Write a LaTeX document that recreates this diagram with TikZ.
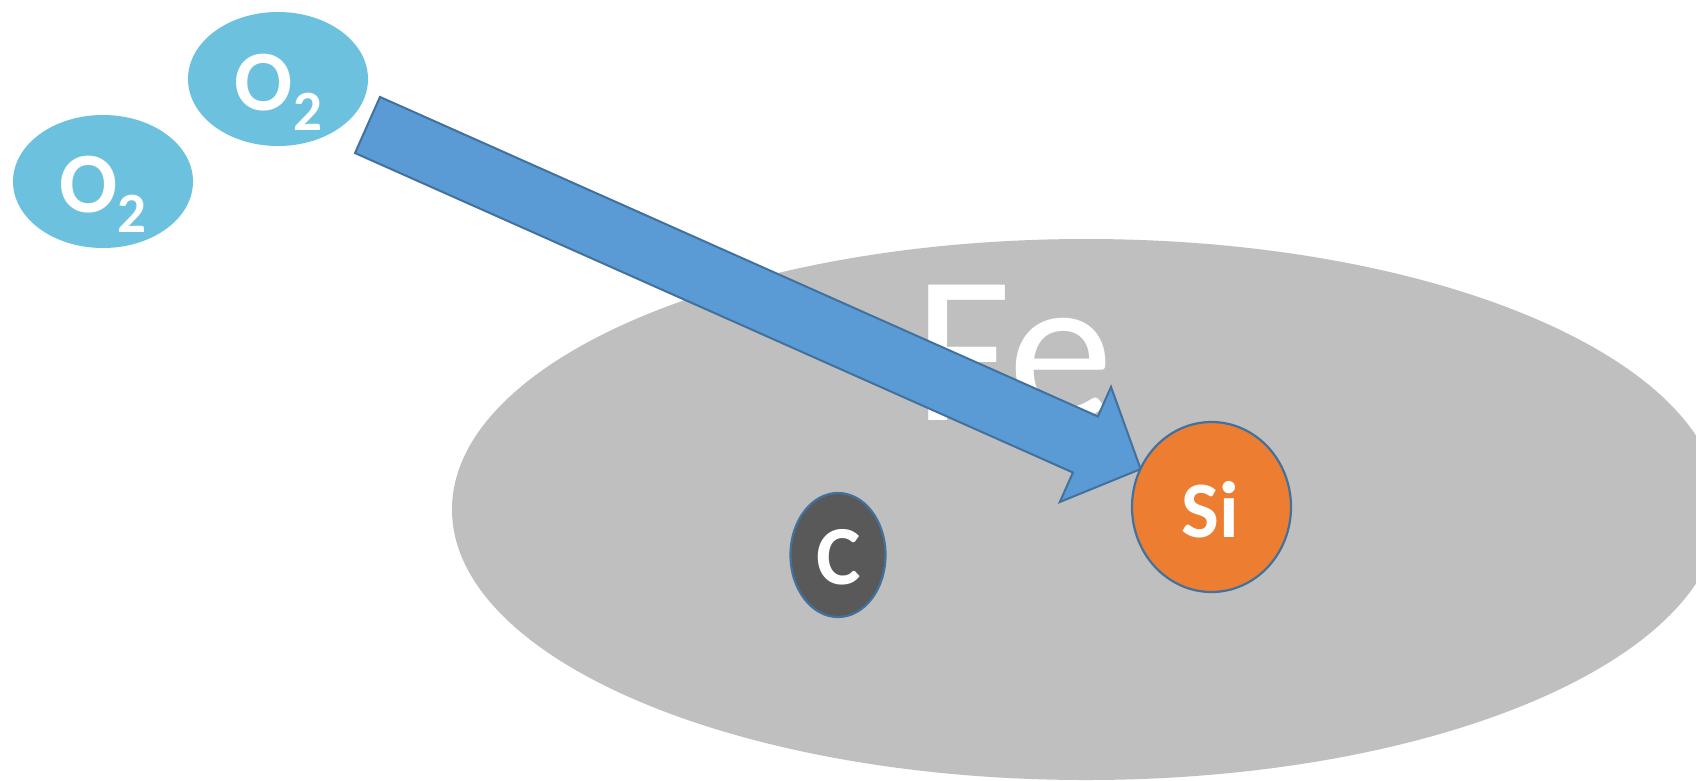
\documentclass[tikz,border=0pt]{standalone}
\usepackage{fontspec}
\setmainfont{Carlito}
\usetikzlibrary{shapes.geometric,calc}

\definecolor{melt}{HTML}{BFBFBF}
\definecolor{oxy}{HTML}{6CC2DE}
\definecolor{carbon}{HTML}{595959}
\definecolor{silicon}{HTML}{ED7D31}
\definecolor{flow}{HTML}{5B9BD5}
\definecolor{rim}{HTML}{41719C}

\tikzset{
  atom/.style={ellipse, inner sep=0pt, draw=none},
  rimmed/.style={draw=rim, line width=2.2pt},
  label text/.style={text=white, inner sep=0pt, anchor=base},
  bigsym/.style={label text, font=\bfseries\fontsize{86}{86}\selectfont},
  flowarrow/.style={fill=flow, draw=rim, line width=2pt, line join=miter},
}

\begin{document}
\begin{tikzpicture}[x=1pt, y=-1pt]
  % canvas
  \clip (0,0) rectangle (1696,780);
  \fill[white] (0,0) rectangle (1696,780);

  % molten iron bath
  \node[atom, fill=melt, minimum width=1268pt, minimum height=541pt] (bath) at (1086,509.5) {};
  \node[label text, font=\fontsize{211}{211}\selectfont] (fe) at (1014,420) {Fe};

  % oxygen molecules
  \node[atom, fill=oxy, minimum width=180pt, minimum height=133pt] (oxA) at (103,181.5) {};
  \node[bigsym] (oxAt) at (103,212) {O\raisebox{-20pt}{\fontsize{57}{57}\selectfont 2}};
  \node[atom, fill=oxy, minimum width=180pt, minimum height=134pt] (oxB) at (278,79) {};
  \node[bigsym] (oxBt) at (278.5,110) {O\raisebox{-20pt}{\fontsize{57}{57}\selectfont 2}};

  % carbon
  \node[atom, rimmed, fill=carbon, minimum width=95pt, minimum height=124pt] (carbon) at (838,555) {};
  \node[label text, font=\bfseries\fontsize{84}{84}\selectfont] (ct) at (838.5,584) {C};

  % block arrow from the oxygen towards silicon (local frame along the shaft)
  \begin{scope}[shift={(367.5,125)}, rotate=-23.99]
    \coordinate (tail) at (0,0);
    \coordinate (tip) at (846.3,0);
    \draw[flowarrow]
      ($(tail)+(0,-30.7)$) -- (785.8,-30.7) -- (785.8,-63) -- (tip)
      -- (785.8,63) -- (785.8,30.7) -- ($(tail)+(0,30.7)$) -- cycle;
  \end{scope}

  % silicon
  \node[atom, rimmed, fill=silicon, minimum width=159pt, minimum height=170pt] (si) at (1211.5,507) {};
  \node[label text, font=\bfseries\fontsize{80}{80}\selectfont] (sit) at (1210.5,537) {Si};
\end{tikzpicture}
\end{document}
